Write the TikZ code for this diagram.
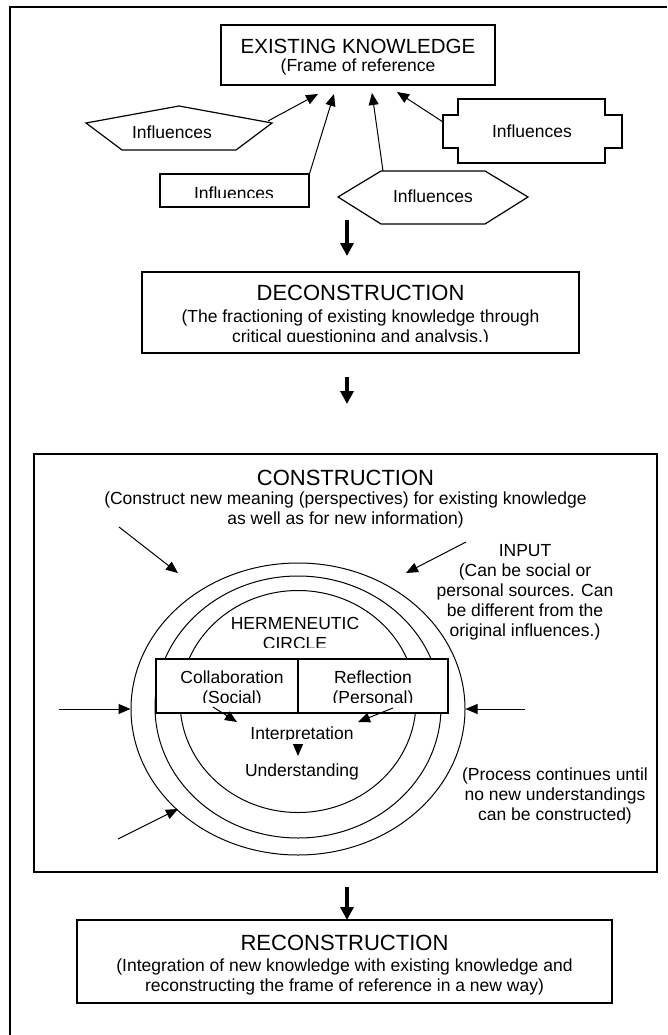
\documentclass[tikz,border=0pt]{standalone}
\usepackage{fontspec}
\setmainfont{Liberation Sans}
\usetikzlibrary{arrows.meta,shapes.geometric}
\begin{document}
\begin{tikzpicture}[x=1pt, y=-1pt,
    box/.style = {draw, line width=1.2pt, inner sep=0pt},
    txt/.style = {align=center, inner sep=0pt, font=\fontsize{17.5}{20}\selectfont},
    head/.style = {inner sep=0pt, font=\fontsize{22}{24}\selectfont},
    ring/.style = {draw, ellipse, line width=1pt, inner sep=0pt},
    feed/.style = {line width=1pt, -{Triangle[length=12pt,width=10pt]}},
    down/.style = {line width=3.5pt, -{Triangle[length=13pt,width=13pt]}}]
  \useasboundingbox (0,0) rectangle (667,1035);
  \draw[line width=1.2pt] (667,7) -- (10,7) -- (10,1035);

  % existing knowledge and the influences
  \node[box, minimum width=274pt, minimum height=60pt](know) at (358,55) {};
  \node[head, font=\fontsize{20.5}{24}\selectfont](knowhd) at (358,46) {EXISTING KNOWLEDGE};
  \node[txt](knowsub) at (358,67) {(Frame of reference};

  \draw[line width=1.2pt] (86,123) -- (179,106) -- (272,123) -- (236,150) -- (122,150) -- cycle;
  \node[txt](inf1) at (172,132) {Influences};
  \node[box, minimum width=149pt, minimum height=33pt](inf2) at (234.5,190.5) {};
  \begin{scope}
    \clip (160,174) rectangle (309,197);
    \node[txt](inf2txt) at (234,193) {Influences};
  \end{scope}
  \draw[line width=1.2pt] (338,197) -- (381,171) -- (485,171) -- (528,197) -- (485,224) -- (381,224) -- cycle;
  \node[txt](inf3) at (433,196) {Influences};
  \draw[line width=1.2pt] (458,99) -- (605,99) -- (605,115) -- (622,115) -- (622,148) -- (605,148) -- (605,163)
    -- (458,163) -- (458,148) -- (443,148) -- (443,115) -- (458,115) -- cycle;
  \node[txt](inf4) at (532,131) {Influences};

  \coordinate (s1) at (268,121); \coordinate (t1) at (318,94);
  \coordinate (t2) at (334,94);
  \coordinate (s3) at (383,171); \coordinate (t3) at (372,93);
  \coordinate (s4) at (443,122); \coordinate (t4) at (397,92);
  \draw[feed] (s1) -- (t1); \draw[feed] (inf2.north east) -- (t2);
  \draw[feed] (s3) -- (t3); \draw[feed] (s4) -- (t4);

  % deconstruction
  \coordinate (a1) at (347,220); \coordinate (b1) at (347,256);
  \draw[down] (a1) -- (b1);
  \node[box, minimum width=437pt, minimum height=81pt](decon) at (360.5,312.5) {};
  \node[head](deconhd) at (360.5,293) {DECONSTRUCTION};
  \begin{scope}
    \clip (142,300) rectangle (579,341);
    \node[txt](deconsub) at (360.5,327.5) {(The fractioning of existing knowledge through\\critical questioning and analysis.)};
  \end{scope}
  \coordinate (a2) at (347,377); \coordinate (b2) at (347,404);
  \draw[down] (a2) -- (b2);

  % construction
  \node[box, minimum width=623pt, minimum height=418pt](cons) at (345.5,663) {};
  \node[head](conshd) at (345.5,478) {CONSTRUCTION};
  \node[txt](conssub) at (345.5,510) {(Construct new meaning (perspectives) for existing knowledge\\as well as for new information)};
  \node[txt](input) at (525,592.5) {INPUT\\(Can be social or\\personal sources. Can\\be different from the\\original influences.)};
  \node[txt](proc) at (555,796) {(Process continues until\\no new understandings\\can be constructed)};

  \node[ring, minimum width=334pt, minimum height=292pt](outer) at (298,709) {};
  \node[ring, minimum width=286pt, minimum height=262pt](middle) at (298,707) {};
  \node[ring, minimum width=236pt, minimum height=222pt](inner) at (298,701.5) {};
  \begin{scope}
    \clip (200,600) rectangle (400,647);
    \node[txt](herm) at (295,633) {HERMENEUTIC\\CIRCLE};
  \end{scope}
  \node[box, fill=white, minimum width=142pt, minimum height=54pt](collab) at (227,686) {};
  \node[box, fill=white, minimum width=150pt, minimum height=54pt](reflect) at (373,686) {};
  \begin{scope}
    \clip (156,659) rectangle (448,702);
    \node[txt](collabtxt) at (232,689) {Collaboration\\(Social)};
    \node[txt](reflecttxt) at (373,689) {Reflection\\(Personal)};
  \end{scope}
  \begin{scope}
    \clip (230,720) rectangle (380,739);
    \node[txt](interp) at (302,735) {Interpretation};
  \end{scope}
  \node[txt](under) at (302,772) {Understanding};

  \coordinate (c1) at (213,707); \coordinate (c2) at (237,722);
  \coordinate (r1) at (393,708); \coordinate (r2) at (358,722);
  \coordinate (u1) at (298,744); \coordinate (u2) at (298,756);
  \draw[feed] (c1) -- (c2); \draw[feed] (r1) -- (r2); \draw[feed] (u1) -- (u2);

  \coordinate (i1) at (119,527); \coordinate (e1) at (178,573);
  \coordinate (i2) at (466,542); \coordinate (e2) at (406,573);
  \coordinate (i3) at (59,709); \coordinate (i4) at (525,709);
  \coordinate (i5) at (118,839); \coordinate (e5) at (178,809);
  \draw[feed] (i1) -- (e1); \draw[feed] (i2) -- (e2);
  \draw[feed] (i3) -- (outer.west); \draw[feed] (i4) -- (outer.east);
  \draw[feed] (i5) -- (e5);

  % reconstruction
  \coordinate (a3) at (347,887); \coordinate (b3) at (347,920);
  \draw[down] (a3) -- (b3);
  \node[box, minimum width=535pt, minimum height=83pt](recon) at (344.5,961.5) {};
  \node[head](reconhd) at (344.5,943) {RECONSTRUCTION};
  \node[txt](reconsub) at (344.5,976.5) {(Integration of new knowledge with existing knowledge and\\reconstructing the frame of reference in a new way)};
\end{tikzpicture}
\end{document}
